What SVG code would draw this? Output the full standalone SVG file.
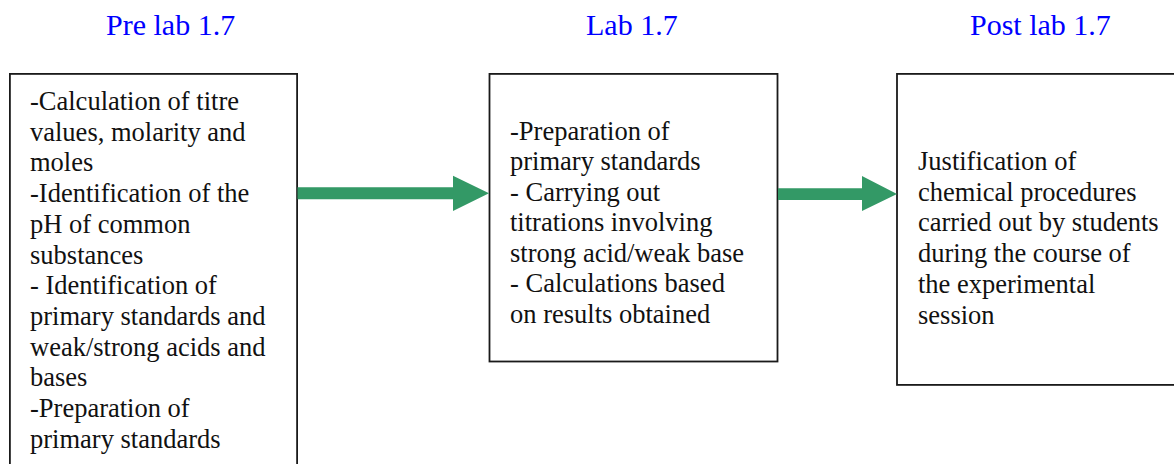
<svg xmlns="http://www.w3.org/2000/svg" width="1174" height="464" viewBox="0 0 1174 464">
  <style>
    .box { fill: #ffffff; stroke: #1a1a1a; stroke-width: 1.8; }
    .body { font-family: "Liberation Serif", "Times New Roman", serif; font-size: 26.5px; fill: #111111; }
    .title { font-family: "Liberation Serif", "Times New Roman", serif; font-size: 30px; fill: #0000ff; }
    .arrow { fill: #339966; }
  </style>
  <rect width="1174" height="464" fill="#ffffff"/>

  <!-- stage headings -->
  <g id="titles">
    <text class="title" x="106" y="35">Pre lab 1.7</text>
    <text class="title" x="586" y="35">Lab 1.7</text>
    <text class="title" x="970" y="35">Post lab 1.7</text>
  </g>

  <!-- Pre lab box -->
  <g id="prelab">
    <rect class="box" x="9.9" y="73.9" width="287.2" height="400"/>
    <text class="body">
      <tspan x="30" y="110">-Calculation of titre</tspan>
      <tspan x="30" y="140.7">values, molarity and</tspan>
      <tspan x="30" y="171.4">moles</tspan>
      <tspan x="30" y="202.1">-Identification of the</tspan>
      <tspan x="30" y="232.8">pH of common</tspan>
      <tspan x="30" y="263.5">substances</tspan>
      <tspan x="30" y="294.2">- Identification of</tspan>
      <tspan x="30" y="324.9">primary standards and</tspan>
      <tspan x="30" y="355.6">weak/strong acids and</tspan>
      <tspan x="30" y="386.3">bases</tspan>
      <tspan x="30" y="417">-Preparation of</tspan>
      <tspan x="30" y="447.7">primary standards</tspan>
    </text>
  </g>

  <!-- Lab box -->
  <g id="lab">
    <rect class="box" x="489.5" y="73.9" width="288" height="287.6"/>
    <text class="body">
      <tspan x="510" y="139.5">-Preparation of</tspan>
      <tspan x="510" y="170">primary standards</tspan>
      <tspan x="510" y="200.5">- Carrying out</tspan>
      <tspan x="510" y="231">titrations involving</tspan>
      <tspan x="510" y="261.5">strong acid/weak base</tspan>
      <tspan x="510" y="292">- Calculations based</tspan>
      <tspan x="510" y="322.5">on results obtained</tspan>
    </text>
  </g>

  <!-- Post lab box -->
  <g id="postlab">
    <rect class="box" x="897" y="73.9" width="300" height="311"/>
    <text class="body">
      <tspan x="918" y="170">Justification of</tspan>
      <tspan x="918" y="200.7">chemical procedures</tspan>
      <tspan x="918" y="231.4">carried out by students</tspan>
      <tspan x="918" y="262.1">during the course of</tspan>
      <tspan x="918" y="292.8">the experimental</tspan>
      <tspan x="918" y="323.5">session</tspan>
    </text>
  </g>

  <!-- block arrows between stages -->
  <g id="connectors">
    <polygon class="arrow" points="297.5,187.3 453,187.3 453,175.8 489,193.3 453,211 453,199.3 297.5,199.3"/>
    <polygon class="arrow" points="778,188.3 862,188.3 862,176 897,194 862,211 862,200 778,200"/>
  </g>
</svg>
